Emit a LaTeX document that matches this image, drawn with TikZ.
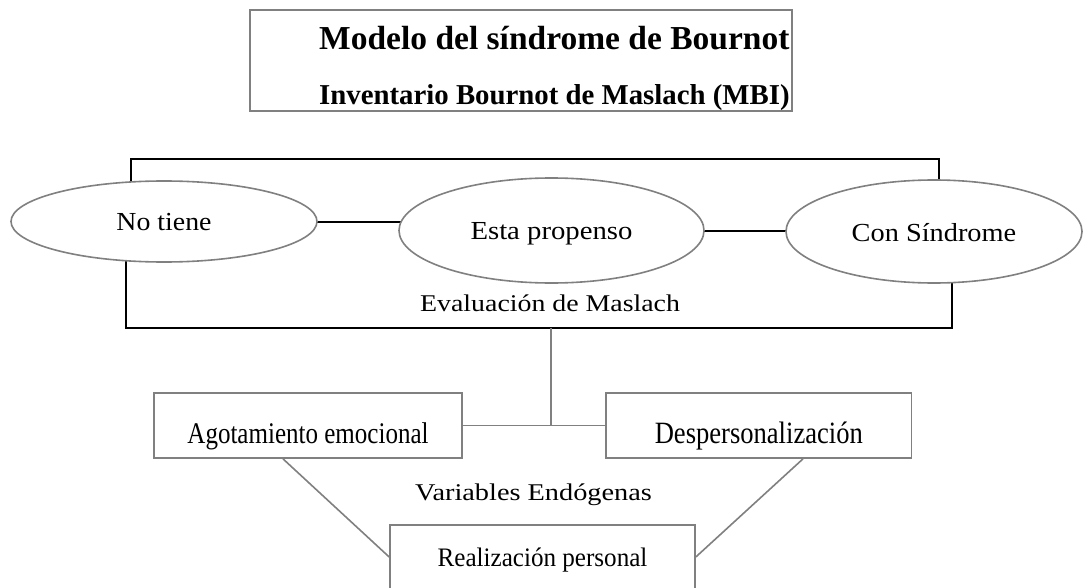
\documentclass[tikz,border=0pt]{standalone}
\usepackage{fontspec}
\setmainfont{Liberation Serif}
\usepackage{graphicx}
\usetikzlibrary{shapes.geometric,calc,backgrounds}
\definecolor{linegray}{HTML}{808080}
\begin{document}
\begin{tikzpicture}[x=1pt,y=-1pt,
  blk/.style={draw=black,line width=2pt},
  gry/.style={draw=linegray,line width=1.6pt},
  oval/.style={ellipse,draw=linegray,line width=1.6pt,fill=white,inner sep=0pt,text height=17pt,text depth=0pt,font=\fontsize{26}{30}\selectfont},
  vbox/.style={rectangle,draw=linegray,line width=1.6pt,fill=white,inner sep=0pt},
  lbl/.style={anchor=base west,inner sep=0pt,font=\fontsize{24}{28}\selectfont}]
\clip (0,0) rectangle (1083,588);
% title
\node[draw=linegray,line width=1.3pt,minimum width=542pt,minimum height=101pt,inner sep=0pt] (tbox) at (521,60.5) {};
\node[anchor=base west,inner sep=0pt,font=\fontsize{33.5}{38}\selectfont\bfseries] (title) at (319,50) {Modelo del síndrome de Bournot};
\node[anchor=base west,inner sep=0pt,font=\fontsize{28.8}{32}\selectfont\bfseries] (sub) at (319,105) {Inventario Bournot de Maslach (MBI)};
% ellipses
\node[oval,minimum width=306pt,minimum height=81pt] (no) at (164,221.5) {\scalebox{1.07}[1]{No tiene}};
\node[oval,minimum width=305pt,minimum height=105pt] (esta) at (551.5,230.5) {\scalebox{1.105}[1]{Esta propenso}};
\node[oval,minimum width=296pt,minimum height=103pt,text height=20pt] (con) at (934,231.5) {\scalebox{1.09}[1]{Con Síndrome}};
\node[lbl] (eval) at (420,311.7) {\scalebox{1.16}[1]{Evaluación de Maslach}};
% boxes
\node[vbox,minimum width=308pt,minimum height=65pt,text height=35pt,text depth=0pt,font=\fontsize{30}{34}\selectfont] (agot) at (308,425.5) {\scalebox{0.834}[1]{Agotamiento emocional}};
\node[vbox,minimum width=305.7pt,minimum height=65pt,text height=35pt,text depth=0pt,font=\fontsize{31}{35}\selectfont] (desp) at (758.8,425.5) {\scalebox{0.857}[1]{Despersonalización}};
\node[vbox,minimum width=305pt,minimum height=64pt,text height=18pt,text depth=0pt,font=\fontsize{26.7}{30}\selectfont] (real) at (542.5,557) {\scalebox{0.94}[1]{Realización personal}};
\node[lbl] (vars) at (415,500) {\scalebox{1.18}[1]{Variables Endógenas}};
\coordinate (tr) at (938.7,159);
\coordinate (br) at (951.7,327.7);
\coordinate (mid) at (551,327.7);
\begin{pgfonlayer}{background}
\fill[white] (0,0) rectangle (1083,588);
\draw[blk] ($(no.center)+(-33,0)$) |- (tr) -- (tr |- con.center);
\draw[blk] ($(no.center)+(-38,0)$) |- (br) -- (br |- con.center);
\draw[blk] (no.center) -- (no.center -| esta.center);
\draw[blk] (esta.center) -- (esta.center -| con.center);
\draw[gry] (mid) -- (mid |- agot.center);
\draw[gry] (agot.center) -- (desp.center);
\draw[gry] ($(agot.south west)!0.419!(agot.south east)$) -- (real.west);
\draw[gry] ($(desp.south west)!0.644!(desp.south east)$) -- (real.east);
\end{pgfonlayer}
\end{tikzpicture}
\end{document}
